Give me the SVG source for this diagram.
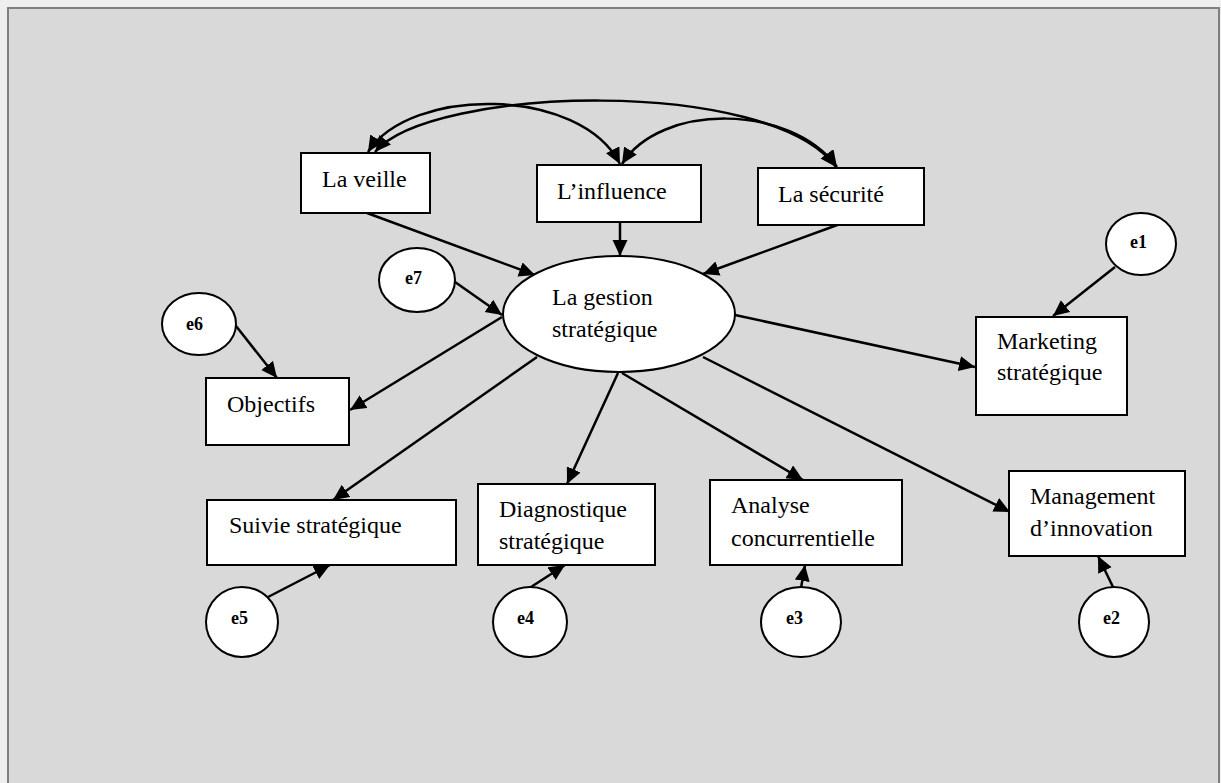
<svg xmlns="http://www.w3.org/2000/svg" width="1221" height="783" viewBox="0 0 1221 783">
  <style>
    .box { fill: #ffffff; stroke: #000000; stroke-width: 2; }
    .lbl { font-family: "Liberation Serif", "Times New Roman", serif; font-size: 24px; fill: #000000; }
    .err { font-family: "Liberation Serif", "Times New Roman", serif; font-size: 18px; font-weight: bold; fill: #000000; }
    .edge { fill: none; stroke: #000000; stroke-width: 2.5; marker-end: url(#arrow); }
    .corr { fill: none; stroke: #000000; stroke-width: 2.5; marker-start: url(#arrow); marker-end: url(#arrow); }
  </style>
  <defs>
    <marker id="arrow" markerUnits="userSpaceOnUse" markerWidth="18" markerHeight="16" refX="16" refY="7.5" orient="auto-start-reverse">
      <path d="M0,0 L16,7.5 L0,15 z" fill="#000000"/>
    </marker>
  </defs>

  <!-- page background and framed panel -->
  <rect x="0" y="0" width="1221" height="783" fill="#eeeeee"/>
  <rect x="8" y="8" width="1211" height="800" fill="#d9d9d9" stroke="#7f7f7f" stroke-width="2"/>

  <!-- connectors -->
  <g id="connectors">
    <!-- correlations among the three exogenous factors -->
    <path class="corr" d="M368,152 C410,86 580,86 620,164"/>
    <path class="corr" d="M375,152 C430,86 770,76 836,167"/>
    <path class="corr" d="M622,164 C660,103 790,103 837,167"/>
    <!-- paths into the latent construct -->
    <line class="edge" x1="367" y1="213" x2="535" y2="275"/>
    <line class="edge" x1="620" y1="222" x2="620" y2="256"/>
    <line class="edge" x1="840" y1="224" x2="703" y2="274"/>
    <line class="edge" x1="455" y1="282" x2="502" y2="315"/>
    <!-- paths out of the latent construct -->
    <line class="edge" x1="502" y1="317" x2="350" y2="410"/>
    <line class="edge" x1="735" y1="315" x2="975" y2="367"/>
    <line class="edge" x1="537" y1="357" x2="333" y2="500"/>
    <line class="edge" x1="618" y1="373" x2="567" y2="484"/>
    <line class="edge" x1="622" y1="373" x2="803" y2="480"/>
    <line class="edge" x1="703" y1="357" x2="1010" y2="512"/>
    <!-- error terms -->
    <line class="edge" x1="236" y1="326" x2="277" y2="378"/>
    <line class="edge" x1="1115" y1="267" x2="1053" y2="316"/>
    <line class="edge" x1="268" y1="597" x2="330" y2="565"/>
    <line class="edge" x1="531" y1="587" x2="565" y2="565"/>
    <line class="edge" x1="801" y1="588" x2="805" y2="565"/>
    <line class="edge" x1="1113" y1="587" x2="1098" y2="556"/>
  </g>

  <!-- exogenous factors -->
  <g id="veille">
    <rect class="box" x="301" y="153" width="129" height="60"/>
    <text class="lbl" x="322" y="187">La veille</text>
  </g>
  <g id="influence">
    <rect class="box" x="537" y="165" width="164" height="57"/>
    <text class="lbl" x="557" y="199">L’influence</text>
  </g>
  <g id="securite">
    <rect class="box" x="758" y="168" width="166" height="57"/>
    <text class="lbl" x="778" y="202">La sécurité</text>
  </g>

  <!-- latent construct -->
  <g id="gestion">
    <ellipse cx="619" cy="314" rx="116" ry="58" fill="#ffffff" stroke="#000000" stroke-width="2"/>
    <text class="lbl" x="552" y="305">La gestion</text>
    <text class="lbl" x="552" y="337">stratégique</text>
  </g>

  <!-- indicators -->
  <g id="objectifs">
    <rect class="box" x="206" y="378" width="143" height="67"/>
    <text class="lbl" x="227" y="412">Objectifs</text>
  </g>
  <g id="marketing">
    <rect class="box" x="976" y="317" width="151" height="98"/>
    <text class="lbl" x="997" y="349">Marketing</text>
    <text class="lbl" x="997" y="380">stratégique</text>
  </g>
  <g id="suivie">
    <rect class="box" x="207" y="500" width="249" height="65"/>
    <text class="lbl" x="229" y="533">Suivie stratégique</text>
  </g>
  <g id="diagnostique">
    <rect class="box" x="478" y="484" width="177" height="81"/>
    <text class="lbl" x="499" y="517">Diagnostique</text>
    <text class="lbl" x="499" y="549">stratégique</text>
  </g>
  <g id="analyse">
    <rect class="box" x="710" y="480" width="192" height="85"/>
    <text class="lbl" x="731" y="513">Analyse</text>
    <text class="lbl" x="731" y="546">concurrentielle</text>
  </g>
  <g id="management">
    <rect class="box" x="1009" y="471" width="176" height="85"/>
    <text class="lbl" x="1030" y="504">Management</text>
    <text class="lbl" x="1030" y="536">d’innovation</text>
  </g>

  <!-- error terms -->
  <g id="e7">
    <ellipse class="box" cx="417" cy="280" rx="38" ry="32"/>
    <text class="err" x="405" y="284">e7</text>
  </g>
  <g id="e6">
    <ellipse class="box" cx="199" cy="324" rx="37" ry="31"/>
    <text class="err" x="186" y="330">e6</text>
  </g>
  <g id="e1">
    <ellipse class="box" cx="1141" cy="244" rx="35" ry="31"/>
    <text class="err" x="1130" y="248">e1</text>
  </g>
  <g id="e5">
    <ellipse class="box" cx="242" cy="622" rx="36" ry="35"/>
    <text class="err" x="231" y="624">e5</text>
  </g>
  <g id="e4">
    <ellipse class="box" cx="530" cy="622" rx="37" ry="35"/>
    <text class="err" x="517" y="624">e4</text>
  </g>
  <g id="e3">
    <ellipse class="box" cx="801" cy="622" rx="40" ry="35"/>
    <text class="err" x="786" y="624">e3</text>
  </g>
  <g id="e2">
    <ellipse class="box" cx="1114" cy="622" rx="35" ry="35"/>
    <text class="err" x="1103" y="624">e2</text>
  </g>
</svg>
